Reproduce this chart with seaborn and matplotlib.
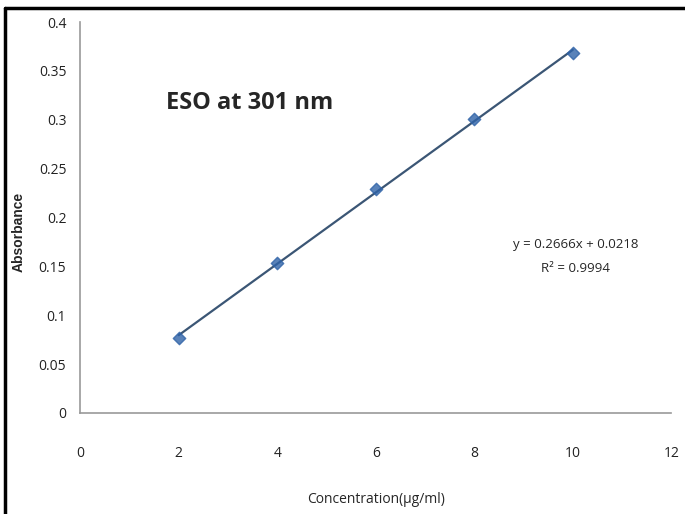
import numpy as np
import pandas as pd
import matplotlib
matplotlib.use('Agg')
import matplotlib.pyplot as plt
import seaborn as sns
from matplotlib.lines import Line2D

conc = [2, 4, 6, 8, 10]
absorb = [0.077, 0.153, 0.229, 0.301, 0.368]
title_txt = 'ESO at 301 nm'
eq_txt = 'y = 0.2666x + 0.0218'
r2_txt = 'R² = 0.9994'

sns.set_style('white')
plt.rcParams['font.family'] = ['Open Sans', 'DejaVu Sans']

df = pd.DataFrame({'Concentration': conc, 'Absorbance': absorb})

fig = plt.figure(figsize=(6.85, 5.14), dpi=100)
ax = fig.add_axes([0.117, 0.1965, 0.863, 0.7605])

# trend line + markers
sns.regplot(x='Concentration', y='Absorbance', data=df, ci=None, ax=ax,
            marker='D', scatter_kws={'s': 40, 'color': '#2f63a8', 'zorder': 3},
            line_kws={'color': '#3b5675', 'lw': 1.6})

ax.set_xlim(0, 12)
ax.set_ylim(0, 0.4)
ax.set_xticks(np.arange(0, 13, 2))
ax.set_yticks(np.arange(0, 0.401, 0.05))
ax.set_yticklabels(['0', '0.05', '0.1', '0.15', '0.2', '0.25', '0.3', '0.35', '0.4'])
ax.tick_params(axis='both', direction='out', length=4, width=1, color='#999999',
               labelsize=10, labelcolor='#222222')
ax.tick_params(axis='x', pad=20)
ax.tick_params(axis='y', pad=6)
for s in ['top', 'right']:
    ax.spines[s].set_visible(False)
for s in ['left', 'bottom']:
    ax.spines[s].set_color('#999999')
    ax.spines[s].set_linewidth(1.2)

ax.set_xlabel('Concentration(µg/ml)', fontsize=10, labelpad=22)
ax.set_ylabel('Absorbance', fontsize=10, fontweight='bold',
              family=['Liberation Sans', 'DejaVu Sans'])
ax.yaxis.set_label_coords(-0.092, 0.463)

ax.text(1.75, 0.317, title_txt, fontsize=17, fontweight='bold', ha='left', va='center')
ax.text(10.05, 0.172, eq_txt, fontsize=9.5, ha='center', va='center')
ax.text(10.05, 0.148, r2_txt, fontsize=9.5, ha='center', va='center')

# frame lines (top and left)
fig.add_artist(Line2D([0.008, 1.0], [0.985, 0.985], color='black', lw=2.5,
                      transform=fig.transFigure))
fig.add_artist(Line2D([0.008, 0.008], [0.0, 0.985], color='black', lw=2.5,
                      transform=fig.transFigure))

fig.savefig('out.png', dpi=100)
